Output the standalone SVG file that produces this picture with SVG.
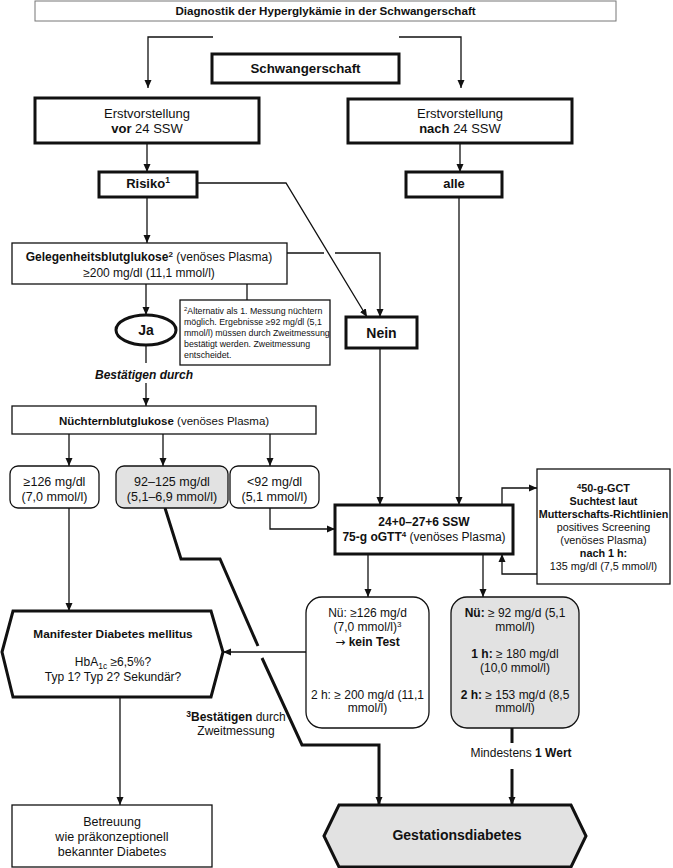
<svg xmlns="http://www.w3.org/2000/svg" width="673" height="868" viewBox="0 0 673 868">
<defs>
<style>
text{font-family:"Liberation Sans",Arial,sans-serif;fill:#111;}
.c{text-anchor:middle;}
.b{font-weight:bold;}
.thick{fill:#fff;stroke:#111;stroke-width:3;}
.thin{fill:#fff;stroke:#111;stroke-width:1.3;}
.gray{fill:#e2e2e2;}
.ln{fill:none;stroke:#111;stroke-width:1.3;}
.tl{fill:none;stroke:#111;stroke-width:3;}
.arr{marker-end:url(#ah);}
</style>
<marker id="ah" markerUnits="userSpaceOnUse" markerWidth="9" markerHeight="8" refX="8" refY="4" orient="auto">
<path d="M0,0.5 L8,4 L0,7.5 z" fill="#111"/>
</marker>
</defs>
<rect width="673" height="868" fill="#fff"/>

<g id="connectors">
<path class="ln arr" d="M213,37 H148 V88"/>
<path class="ln arr" d="M399,37 H461 V88"/>
<path class="ln arr" d="M147,143 V172"/>
<path class="ln arr" d="M460,143 V172"/>
<path class="ln arr" d="M147,197 V243"/>
<path class="ln arr" d="M197,183 H286 L367,317"/>
<path class="ln" d="M287,253 H324"/>
<path class="ln arr" d="M335,253 H380 V317"/>
<path class="ln arr" d="M459,197 V505"/>
<path class="ln arr" d="M380,348 V505"/>
<path class="ln arr" d="M146,284 V315"/>
<path class="ln" d="M247,284 V300"/>
<path class="ln" d="M146,345 V363"/>
<path class="ln arr" d="M146,383 V406"/>
<path class="ln arr" d="M69,434 V466"/>
<path class="ln arr" d="M163,434 V466"/>
<path class="ln arr" d="M270,434 V466"/>
<path class="ln arr" d="M270,508 V529 H335"/>
<path class="tl" d="M165,508 L181,559 H220 L258,646"/>
<path class="tl arr" d="M262,658 L302,745 H379 V805"/>
<path class="ln arr" d="M69,508 V611"/>
<path class="ln arr" d="M306,652 H223"/>
<path class="ln arr" d="M120,697 V805"/>
<path class="ln arr" d="M368,554 V597"/>
<path class="ln arr" d="M483,554 V597"/>
<path class="ln arr" d="M502,505 V488 H537"/>
<path class="ln arr" d="M537,574 H502 V554"/>
<path class="tl" d="M512,728 V743"/>
<path class="tl arr" d="M512,769 V805"/>
</g>

<g id="title">
<rect x="35" y="1" width="581" height="20" fill="#fff" stroke="#777" stroke-width="1"/>
<text class="c b" x="325.5" y="15" font-size="11.6">Diagnostik der Hyperglykämie in der Schwangerschaft</text>
</g>

<g id="schwangerschaft">
<rect class="thick" x="212" y="54" width="187" height="29"/>
<text class="c b" x="305.5" y="73" font-size="13.3">Schwangerschaft</text>
</g>

<g id="vor24">
<rect class="thick" x="35" y="98" width="224" height="45"/>
<text class="c" x="147" y="118" font-size="13">Erstvorstellung</text>
<text class="c" x="147" y="133" font-size="13"><tspan class="b">vor</tspan> 24 SSW</text>
</g>

<g id="nach24">
<rect class="thick" x="348" y="99" width="224" height="44"/>
<text class="c" x="460" y="118" font-size="13">Erstvorstellung</text>
<text class="c" x="460" y="133" font-size="13"><tspan class="b">nach</tspan> 24 SSW</text>
</g>

<g id="risiko">
<rect class="thick" x="99" y="172" width="98" height="25"/>
<text class="c b" x="148" y="188" font-size="13">Risiko<tspan font-size="8.5" dy="-5">1</tspan></text>
</g>

<g id="alle">
<rect class="thick" x="406" y="172" width="96" height="25"/>
<text class="c b" x="454" y="188" font-size="13">alle</text>
</g>

<g id="gelegenheit">
<rect class="thin" x="12" y="243" width="275" height="41"/>
<text class="c" x="149" y="261" font-size="12"><tspan class="b">Gelegenheitsblutglukose</tspan><tspan class="b" font-size="8" dy="-4">2</tspan><tspan dy="4"> (venöses Plasma)</tspan></text>
<text class="c" x="149" y="277" font-size="12">≥200 mg/dl (11,1 mmol/l)</text>
</g>

<g id="fussnote2">
<rect class="thin" x="180" y="300" width="150" height="65" stroke-width="1.1"/>
<text x="184" y="314" font-size="8.8"><tspan font-size="6" dy="-3">2</tspan><tspan dy="3">Alternativ als 1. Messung  nüchtern</tspan></text>
<text x="184" y="325" font-size="8.8">möglich. Ergebnisse ≥92 mg/dl (5,1</text>
<text x="184" y="336" font-size="8.8">mmol/l) müssen durch Zweitmessung</text>
<text x="184" y="347" font-size="8.8">bestätigt werden. Zweitmessung</text>
<text x="184" y="358" font-size="8.8">entscheidet.</text>
</g>

<g id="ja">
<ellipse class="thick" cx="146" cy="330" rx="30" ry="15"/>
<text class="c b" x="146" y="335" font-size="14">Ja</text>
</g>

<g id="nein">
<rect class="thick" x="346" y="317" width="71" height="31"/>
<text class="c b" x="381.5" y="338" font-size="14">Nein</text>
</g>

<g id="bestaetigen">
<text class="c b" x="144" y="379" font-size="12" font-style="italic">Bestätigen durch</text>
</g>

<g id="nuechtern">
<rect class="thin" x="12" y="406" width="304" height="28"/>
<text class="c" x="164" y="425" font-size="11.5"><tspan class="b">Nüchternblutglukose</tspan> (venöses Plasma)</text>
</g>

<g id="nb126">
<rect class="thin" x="10" y="466" width="89" height="42" rx="8"/>
<text class="c" x="54.5" y="486" font-size="12.5">≥126 mg/dl</text>
<text class="c" x="54.5" y="501" font-size="12.5">(7,0 mmol/l)</text>
</g>

<g id="nb92125">
<rect class="thin gray" x="116" y="466" width="112" height="42" rx="8"/>
<text class="c" x="172" y="486" font-size="12.5">92–125 mg/dl</text>
<text class="c" x="172" y="501" font-size="12.5">(5,1–6,9 mmol/l)</text>
</g>

<g id="nb92">
<rect class="thin" x="230" y="466" width="89" height="42" rx="8"/>
<text class="c" x="274.5" y="486" font-size="12.5">&lt;92 mg/dl</text>
<text class="c" x="274.5" y="501" font-size="12.5">(5,1 mmol/l)</text>
</g>

<g id="ogtt">
<rect class="thick" x="335" y="505" width="178" height="49"/>
<text class="c b" x="424" y="526" font-size="12">24+0–27+6 SSW</text>
<text class="c" x="424" y="541" font-size="12"><tspan class="b">75-g oGTT</tspan><tspan class="b" font-size="8" dy="-4">4</tspan><tspan dy="4"> (venöses Plasma)</tspan></text>
</g>

<g id="gct">
<rect class="thin" x="537" y="469" width="133" height="115"/>
<text class="c b" x="603.5" y="492" font-size="10.8"><tspan font-size="7.5" dy="-3">4</tspan><tspan dy="3">50-g-GCT</tspan></text>
<text class="c b" x="603.5" y="505" font-size="10.8">Suchtest laut</text>
<text class="c b" x="603.5" y="518" font-size="10.8">Mutterschafts-Richtlinien</text>
<text class="c" x="603.5" y="531" font-size="10.8">positives Screening</text>
<text class="c" x="603.5" y="544" font-size="10.8">(venöses Plasma)</text>
<text class="c b" x="603.5" y="557" font-size="10.8">nach 1 h:</text>
<text class="c" x="603.5" y="570" font-size="10.8">135 mg/dl (7,5 mmol/l)</text>
</g>

<g id="manifest">
<polygon class="thick" points="2,652 13,611 211,611 223,652 211,697 13,697"/>
<text class="c b" x="113" y="638" font-size="11.8">Manifester Diabetes mellitus</text>
<text class="c" x="113" y="666" font-size="12">HbA<tspan font-size="8.5" dy="3">1c</tspan><tspan dy="-3"> ≥6,5%?</tspan></text>
<text class="c" x="113" y="681" font-size="12">Typ 1? Typ 2? Sekundär?</text>
</g>

<g id="nue126">
<rect class="thin" x="306" y="597" width="123" height="131" rx="16"/>
<text class="c" x="367.5" y="617" font-size="12">Nü: ≥126 mg/d</text>
<text class="c" x="367.5" y="631" font-size="12">(7,0 mmol/l)<tspan font-size="8" dy="-4">3</tspan></text>
<text class="c" x="367.5" y="646" font-size="12"><tspan font-family="DejaVu Sans, sans-serif">→</tspan> <tspan class="b">kein Test</tspan></text>
<text class="c" x="367.5" y="699" font-size="12">2 h: ≥ 200 mg/d (11,1</text>
<text class="c" x="367.5" y="712" font-size="12">mmol/l)</text>
</g>

<g id="nue92">
<rect class="thin gray" x="451" y="597" width="128" height="131" rx="16"/>
<text class="c" x="515" y="617" font-size="12"><tspan class="b">Nü:</tspan> ≥ 92 mg/d (5,1</text>
<text class="c" x="515" y="631" font-size="12">mmol/l)</text>
<text class="c" x="515" y="658" font-size="12"><tspan class="b">1 h:</tspan> ≥ 180 mg/dl</text>
<text class="c" x="515" y="672" font-size="12">(10,0 mmol/l)</text>
<text class="c" x="515" y="699" font-size="12"><tspan class="b">2 h:</tspan> ≥ 153 mg/d (8,5</text>
<text class="c" x="515" y="712" font-size="12">mmol/l)</text>
</g>

<g id="zweitmessung">
<text class="c" x="236" y="721" font-size="12"><tspan class="b" font-size="8.5" dy="-4">3</tspan><tspan class="b" dy="4">Bestätigen</tspan> durch</text>
<text class="c" x="236" y="735" font-size="12">Zweitmessung</text>
</g>

<g id="mindestens">
<text class="c" x="521" y="757" font-size="12">Mindestens <tspan class="b">1 Wert</tspan></text>
</g>

<g id="betreuung">
<rect class="thin" x="12" y="805" width="200" height="62" stroke-width="2"/>
<text class="c" x="112" y="826" font-size="12.5">Betreuung</text>
<text class="c" x="112" y="841" font-size="12.5">wie präkonzeptionell</text>
<text class="c" x="112" y="856" font-size="12.5">bekannter Diabetes</text>
</g>

<g id="gestation">
<polygon class="thick gray" points="324,836 339,805 571,805 586,836 571,867 339,867"/>
<text class="c b" x="457" y="840" font-size="14">Gestationsdiabetes</text>
</g>
</svg>
